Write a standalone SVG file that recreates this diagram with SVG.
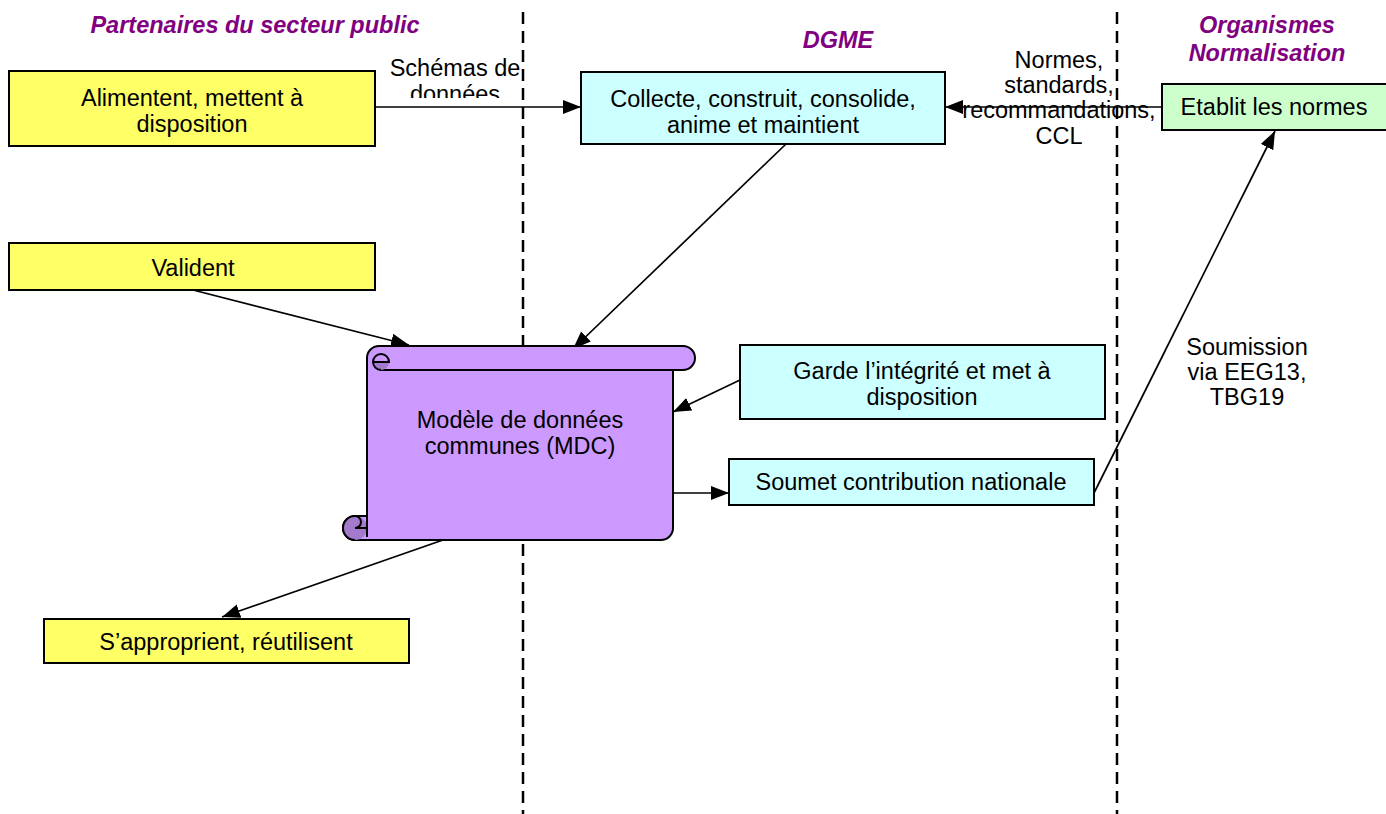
<svg xmlns="http://www.w3.org/2000/svg" width="1386" height="814" viewBox="0 0 1386 814">
<defs>
<style>
.t{font-family:"Liberation Sans",Arial,sans-serif;font-size:23.5px;fill:#000;text-anchor:middle}
.h{font-family:"Liberation Sans",Arial,sans-serif;font-size:23.5px;font-weight:bold;font-style:italic;fill:#800080;text-anchor:middle}
.box{stroke:#000;stroke-width:2}
.y{fill:#FFFF66}
.c{fill:#CCFFFF}
.g{fill:#CCFFCC}
.ln{stroke:#000;stroke-width:1.7;fill:none}
.dash{stroke:#000;stroke-width:2.5;stroke-dasharray:12 7;fill:none}
</style>
<marker id="ah" markerUnits="userSpaceOnUse" markerWidth="20" markerHeight="16" refX="18" refY="7" orient="auto">
<path d="M0,0 L18,7 L0,14 Z" fill="#000"/>
</marker>
<clipPath id="clipSch"><rect x="380" y="40" width="160" height="58"/></clipPath>
</defs>
<rect width="1386" height="814" fill="#fff"/>

<g id="lanes">
<line class="dash" x1="523" y1="12" x2="523" y2="814"/>
<line class="dash" x1="1117" y1="12" x2="1117" y2="814"/>
<text class="h" x="255" y="33">Partenaires du secteur public</text>
<text class="h" x="838" y="48">DGME</text>
<text class="h" x="1267" y="33">Organismes</text>
<text class="h" x="1267" y="61">Normalisation</text>
</g>

<g id="connectors">
<line class="ln" x1="375" y1="107" x2="581" y2="107" marker-end="url(#ah)"/>
<line class="ln" x1="1162" y1="107" x2="945" y2="107" marker-end="url(#ah)"/>
<line class="ln" x1="786" y1="144" x2="573" y2="349" marker-end="url(#ah)"/>
<line class="ln" x1="193" y1="290" x2="409" y2="345" marker-end="url(#ah)"/>
<line class="ln" x1="740" y1="380" x2="673" y2="412" marker-end="url(#ah)"/>
<line class="ln" x1="673" y1="493" x2="729" y2="493" marker-end="url(#ah)"/>
<line class="ln" x1="1094" y1="493" x2="1275" y2="131" marker-end="url(#ah)"/>
<line class="ln" x1="443" y1="540" x2="222" y2="617" marker-end="url(#ah)"/>
<g clip-path="url(#clipSch)">
<text class="t" x="455" y="76">Schémas de</text>
<text class="t" x="455" y="102">données</text>
</g>
<text class="t" x="1059" y="68">Normes,</text>
<text class="t" x="1059" y="93">standards,</text>
<text class="t" x="1059" y="118">recommandations,</text>
<text class="t" x="1059" y="144">CCL</text>
<text class="t" x="1247" y="355">Soumission</text>
<text class="t" x="1247" y="380">via EEG13,</text>
<text class="t" x="1247" y="405">TBG19</text>
</g>

<g id="n-alimentent">
<rect class="box y" x="9" y="71" width="366" height="75"/>
<text class="t" x="192" y="106">Alimentent, mettent à</text>
<text class="t" x="192" y="132">disposition</text>
</g>

<g id="n-collecte">
<rect class="box c" x="581" y="72" width="364" height="72"/>
<text class="t" x="763" y="107">Collecte, construit, consolide,</text>
<text class="t" x="763" y="133">anime et maintient</text>
</g>

<g id="n-etablit">
<rect class="box g" x="1162" y="84" width="230" height="46"/>
<text class="t" x="1274" y="115">Etablit les normes</text>
</g>

<g id="n-valident">
<rect class="box y" x="9" y="243" width="366" height="47"/>
<text class="t" x="193" y="276">Valident</text>
</g>

<g id="n-mdc">
<path d="M379,346 H683 A12,12 0 0 1 683,370 H673 V528 A12,12 0 0 1 661,540 H355 A12,12 0 0 1 355,516 H367 V358 A12,12 0 0 1 379,346 Z" fill="#CC99FF" stroke="#000" stroke-width="2"/>
<line x1="381" y1="370" x2="673" y2="370" stroke="#000" stroke-width="2"/>
<path d="M373,362 A8,8 0 0 0 381,370 A8,8 0 0 0 389,362 Z" fill="#A37ACC" stroke="none"/>
<path d="M381,370 A8,8 0 1 1 389,362 H373" fill="none" stroke="#000" stroke-width="2"/>
<circle cx="355" cy="528" r="12" fill="#A37ACC" stroke="none"/>
<path d="M355,540 A12,12 0 0 1 355,516 A6,6 0 0 1 355,528 H367" fill="none" stroke="#000" stroke-width="2"/>
<line x1="367" y1="516" x2="367" y2="537" stroke="#000" stroke-width="2"/>
<text class="t" x="520" y="428">Modèle de données</text>
<text class="t" x="520" y="454">communes (MDC)</text>
</g>

<g id="n-garde">
<rect class="box c" x="740" y="345" width="365" height="74"/>
<text class="t" x="922" y="379">Garde l’intégrité et met à</text>
<text class="t" x="922" y="405">disposition</text>
</g>

<g id="n-soumet">
<rect class="box c" x="729" y="459" width="365" height="46"/>
<text class="t" x="911" y="490">Soumet contribution nationale</text>
</g>

<g id="n-approprient">
<rect class="box y" x="44" y="619" width="365" height="44"/>
<text class="t" x="226" y="650">S’approprient, réutilisent</text>
</g>
</svg>
